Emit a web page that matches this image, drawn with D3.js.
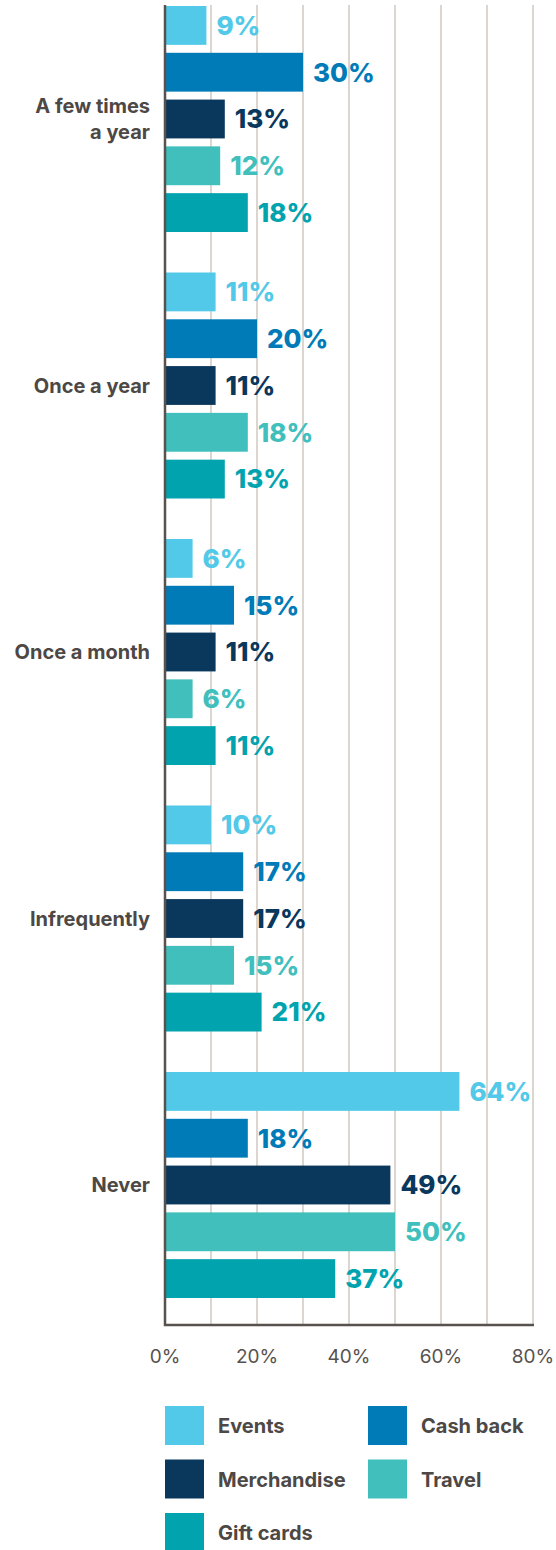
<!DOCTYPE html>
<html>
<head>
<meta charset="utf-8">
<script src="https://cdn.jsdelivr.net/npm/d3@7"></script>
<style>
  body { margin: 0; background: #fff; }
  text { font-family: "Inter", "Lato", sans-serif; }
</style>
</head>
<body>
<svg id="visualisation" width="556" height="1550"></svg>
<script>
var categories = ["A few times a year", "Once a year", "Once a month", "Infrequently", "Never"];
var series = ["Events", "Cash back", "Merchandise", "Travel", "Gift cards"];
var colors = ["#52c9e8", "#007bb8", "#0a375c", "#40bfbd", "#00a3ae"];

var events = [9, 11, 6, 10, 64];
var cashBack = [30, 20, 15, 17, 18];
var merchandise = [13, 11, 11, 17, 49];
var travel = [12, 18, 6, 15, 50];
var giftCards = [18, 13, 11, 21, 37];

var tickValues = [0, 20, 40, 60, 80];
var gridValues = [10, 20, 30, 40, 50, 60, 70, 80];

var seriesValues = [events, cashBack, merchandise, travel, giftCards];

var vis = d3.select("#visualisation"),
    MARGINS = {top: 5, left: 165, right: 23, bottom: 225},
    WIDTH = 556,
    HEIGHT = 1550,
    axisY = HEIGHT - MARGINS.bottom;

var xScale = d3.scaleLinear()
    .domain([0, 80])
    .range([MARGINS.left, WIDTH - MARGINS.right]);

var yScale = d3.scaleBand()
    .domain(categories)
    .range([6, 1298])
    .paddingInner(0.152)
    .paddingOuter(0);

var ySub = d3.scaleBand()
    .domain(series)
    .range([0, yScale.bandwidth()])
    .paddingInner(0.17);

// grid lines
vis.append("g")
    .selectAll("line")
    .data(gridValues)
    .enter().append("line")
    .attr("x1", function(d){ return xScale(d); })
    .attr("x2", function(d){ return xScale(d); })
    .attr("y1", MARGINS.top)
    .attr("y2", axisY)
    .attr("stroke", "#dcd6d0")
    .attr("stroke-width", 2);

// bars + value labels
var rows = [];
categories.forEach(function(c, i){
    series.forEach(function(s, j){
        rows.push({cat: c, ser: s, value: seriesValues[j][i], color: colors[j]});
    });
});

var bar = vis.append("g").selectAll("g")
    .data(rows)
    .enter().append("g")
    .attr("transform", function(d){ return "translate(0," + (yScale(d.cat) + ySub(d.ser)) + ")"; });

bar.append("rect")
    .attr("x", xScale(0) + 1)
    .attr("y", 0)
    .attr("width", function(d){ return xScale(d.value) - xScale(0) - 1; })
    .attr("height", ySub.bandwidth())
    .attr("fill", function(d){ return d.color; });

bar.append("text")
    .attr("x", function(d){ return xScale(d.value) + 10; })
    .attr("y", ySub.bandwidth() / 2)
    .attr("dy", "0.36em")
    .attr("fill", function(d){ return d.color; })
    .style("font-size", "26px")
    .style("font-weight", 800)
    .text(function(d){ return d.value + "%"; });

// axes lines
vis.append("line")
    .attr("x1", MARGINS.left).attr("x2", MARGINS.left)
    .attr("y1", MARGINS.top).attr("y2", axisY + 1)
    .attr("stroke", "#57524e")
    .attr("stroke-width", 2.5);

vis.append("line")
    .attr("x1", MARGINS.left - 1).attr("x2", xScale(80) + 1)
    .attr("y1", axisY).attr("y2", axisY)
    .attr("stroke", "#57524e")
    .attr("stroke-width", 2.5);

// x tick labels
vis.append("g")
    .selectAll("text")
    .data(tickValues)
    .enter().append("text")
    .attr("x", function(d){ return xScale(d); })
    .attr("y", axisY + 38)
    .attr("text-anchor", "middle")
    .attr("fill", "#57524e")
    .style("font-size", "19px")
    .style("font-weight", 400)
    .text(function(d){ return d + "%"; });

// category labels
var catLines = {"A few times a year": ["A few times", "a year"]};
vis.append("g")
    .selectAll("text")
    .data(categories)
    .enter().append("text")
    .attr("text-anchor", "end")
    .attr("fill", "#4d4845")
    .style("font-size", "20px")
    .style("font-weight", 700)
    .each(function(c){
        var lines = catLines[c] || [c];
        var mid = yScale(c) + yScale.bandwidth() / 2;
        var t = d3.select(this);
        lines.forEach(function(l, k){
            t.append("tspan")
                .attr("x", 150)
                .attr("y", mid + (k - (lines.length - 1) / 2) * 26)
                .attr("dy", "0.36em")
                .text(l);
        });
    });

// legend
var legend = vis.append("g")
    .selectAll("g")
    .data(series)
    .enter().append("g")
    .attr("transform", function(d, i){
        return "translate(" + (i % 2 === 0 ? 165 : 368) + "," + (1406 + Math.floor(i / 2) * 53.5) + ")";
    });

legend.append("rect")
    .attr("width", 39)
    .attr("height", 39)
    .attr("fill", function(d, i){ return colors[i]; });

legend.append("text")
    .attr("x", 53)
    .attr("y", 20)
    .attr("dy", "0.36em")
    .attr("fill", "#4d4845")
    .style("font-size", "20px")
    .style("font-weight", 700)
    .text(function(d){ return d; });
</script>
</body>
</html>
